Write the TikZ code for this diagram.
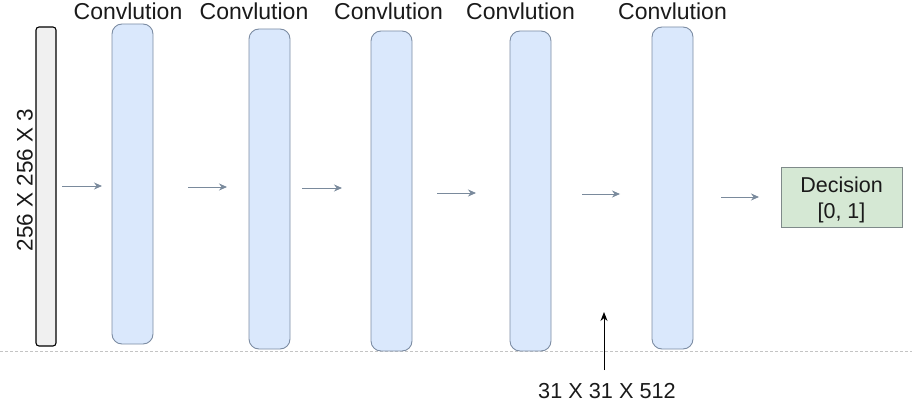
\documentclass[tikz,border=0pt]{standalone}
\usepackage{fontspec}
\setmainfont{Liberation Sans}
\usetikzlibrary{arrows.meta}
\definecolor{barfill}{HTML}{DAE8FC}
\definecolor{barline}{HTML}{7C8CA3}
\definecolor{arrowc}{HTML}{7A8A9C}
\definecolor{inputfill}{HTML}{F0F0F0}
\definecolor{decfill}{HTML}{D5E8D4}
\definecolor{decline}{HTML}{7F8A8A}
\definecolor{dashc}{HTML}{C4C4C4}
\definecolor{txt}{HTML}{1A1A1A}
\tikzset{
  convbar/.style={draw=barline, fill=barfill, line width=0.9pt, rounded corners=10pt, minimum width=41pt, inner sep=0pt, outer sep=0pt},
  inbar/.style={draw=black, fill=inputfill, line width=1.1pt, rounded corners=3pt, minimum width=20pt, minimum height=319pt, inner sep=0pt, outer sep=0pt},
  flow/.style={draw=arrowc, line width=0.9pt, -{Stealth[length=8pt,width=7pt]}},
  convtitle/.style={font=\fontsize{23}{26}\selectfont, text=txt, anchor=base, inner sep=0pt},
}
\begin{document}
\begin{tikzpicture}[x=1pt, y=-1pt]
\useasboundingbox (0,0) rectangle (912,409);
% dashed baseline
\coordinate (dl) at (0,351);
\coordinate (dr) at (912,351);
\draw[dashc, line width=0.7pt, dash pattern=on 3pt off 2pt] (dl) -- (dr);
% input bar
\node[inbar] (in) at (46,186.5) {};
\node[font=\fontsize{22.5}{25}\selectfont, text=txt, rotate=90, inner sep=0pt] (inlab) at (25,180) {256 X 256 X 3};
% conv bars
\node[convbar, minimum height=320pt] (c1) at (132.5,184) {};
\node[convbar, minimum height=320pt] (c2) at (269.5,189) {};
\node[convbar, minimum height=320pt] (c3) at (391.5,191) {};
\node[convbar, minimum height=320pt] (c4) at (530.5,191) {};
\node[convbar, minimum height=322pt] (c5) at (672.5,188) {};
% titles
\node[convtitle] (t1) at (128,20) {Convlution};
\node[convtitle] (t2) at (254,20) {Convlution};
\node[convtitle] (t3) at (388.5,20) {Convlution};
\node[convtitle] (t4) at (520.5,20) {Convlution};
\node[convtitle] (t5) at (672.5,20) {Convlution};
% decision
\node[draw=decline, fill=decfill, line width=0.9pt, minimum width=121pt, minimum height=60pt, inner sep=0pt] (dec) at (841.5,197) {};
\node[inner sep=0pt, align=center, font=\fontsize{21.5}{26}\selectfont, text=txt] (dectext) at (841.5,199.5) {Decision\\{[0, 1]}};
% flow arrows
\coordinate (a1s) at (62,186);  \coordinate (a1e) at (102,186);
\coordinate (a2s) at (188,187); \coordinate (a2e) at (227,187);
\coordinate (a3s) at (302,188); \coordinate (a3e) at (342,188);
\coordinate (a4s) at (437,193); \coordinate (a4e) at (476,193);
\coordinate (a5s) at (582,194); \coordinate (a5e) at (620,194);
\coordinate (a6s) at (721,197); \coordinate (a6e) at (759,197);
\draw[flow] (a1s) -- (a1e);
\draw[flow] (a2s) -- (a2e);
\draw[flow] (a3s) -- (a3e);
\draw[flow] (a4s) -- (a4e);
\draw[flow] (a5s) -- (a5e);
\draw[flow] (a6s) -- (a6e);
% shape annotation
\node[font=\fontsize{21.7}{24}\selectfont, text=txt, anchor=base, inner sep=0pt] (shp) at (607,398) {31 X 31 X 512};
\coordinate (pu) at (604,312);
\coordinate (pd) at (604,370);
\draw[black, line width=1pt, -{Stealth[length=9pt,width=7pt]}] (pd) -- (pu);
\end{tikzpicture}
\end{document}
